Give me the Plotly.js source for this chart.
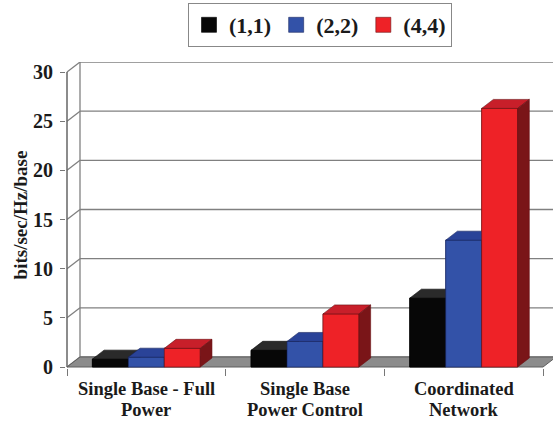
<!DOCTYPE html>
<html><head><meta charset="utf-8">
<script src="https://cdn.plot.ly/plotly-3.0.1.min.js"></script>
<style>html,body{margin:0;padding:0;background:#fff}#chart{width:553px;height:421px}</style>
</head><body><div id="chart"></div>
<script>
// ---- data ----
const categories = ['Single Base - Full<br>Power', 'Single Base<br>Power Control', 'Coordinated<br>Network'];
const seriesNames = ['(1,1)', '(2,2)', '(4,4)'];
const values11 = [0.8, 1.7, 7.0];
const values22 = [1.0, 2.6, 12.9];
const values44 = [1.9, 5.4, 26.3];
const yTicks = [0, 5, 10, 15, 20, 25, 30];
const yTickLabels = ['0', '5', '10', '15', '20', '25', '30'];
const yTitle = 'bits/sec/Hz/base';

// ---- geometry / style ----
const W = 553, H = 421, M = {l: 66, r: 0, t: 62, b: 53};
const XR = [-0.5063, 2.5630], YR = [-0.1017, 31.02];
const pw = W - M.l - M.r, ph = H - M.t - M.b;
const pxX = pw / (XR[1] - XR[0]), pxY = ph / (YR[1] - YR[0]);
const WALL_DX = 13, WALL_DY = 10, BAR_DX = 11.7, BAR_DY = 9;
const wdx = WALL_DX / pxX, wdy = WALL_DY / pxY, bdx = BAR_DX / pxX, bdy = BAR_DY / pxY;
const bargap = 0.32, bw = (1 - bargap) / 3;
const FONT = '"Liberation Serif", serif';
const styles = [
  {front: '#070707', top: '#2a2a2a', side: '#151515', edge: '#000000'},
  {front: '#3352a8', top: '#2a4398', side: '#1d2d6e', edge: '#1a2760'},
  {front: '#ee2227', top: '#c81f2a', side: '#7a1518', edge: '#6a1014'}
];
const series = [values11, values22, values44];
const catX = categories.map((c, i) => i);
const xMin = -0.5, xMax = categories.length - 0.5;

const traces = [];
series.forEach((vals, s) => {
  traces.push({type: 'bar', x: catX, y: vals, name: seriesNames[s], showlegend: false,
    marker: {color: styles[s].front, line: {color: styles[s].edge, width: 0.6}}, hoverinfo: 'y+name'});
});
function poly(xs, ys) { return {x: xs.concat([null]), y: ys.concat([null])}; }
series.forEach((vals, s) => {
  const f = {x: [], y: []}, t = {x: [], y: []}, sd = {x: [], y: []};
  vals.forEach((v, j) => {
    const xl = catX[j] - 1.5 * bw + s * bw, xr = xl + bw;
    let p = poly([xl, xr, xr, xl, xl], [0, 0, v, v, 0]); f.x.push(...p.x); f.y.push(...p.y);
    p = poly([xl, xr, xr + bdx, xl + bdx, xl], [v, v, v + bdy, v + bdy, v]); t.x.push(...p.x); t.y.push(...p.y);
    p = poly([xr, xr + bdx, xr + bdx, xr, xr], [0, bdy, v + bdy, v, 0]); sd.x.push(...p.x); sd.y.push(...p.y);
  });
  [[f, 'front'], [t, 'top'], [sd, 'side']].forEach(([d, k]) => {
    traces.push({type: 'scatter', mode: 'lines', x: d.x, y: d.y, fill: 'toself', fillcolor: styles[s][k],
      line: {color: styles[s].edge, width: 0.6}, hoverinfo: 'skip', showlegend: false});
  });
});
series.forEach((vals, s) => {
  traces.push({type: 'scatter', mode: 'markers', x: [null], y: [null], name: seriesNames[s],
    marker: {symbol: 'square', size: 15, color: styles[s].front, line: {color: styles[s].edge, width: 0.6}}, hoverinfo: 'skip'});
});
traces.push({type: 'scatter', x: [null], y: [null], xaxis: 'x2', showlegend: false, hoverinfo: 'skip'});

const shapes = [];
const gridC = '#808080';
yTicks.forEach(g => {
  shapes.push({type: 'line', layer: 'below', xref: 'x', yref: 'y', x0: xMin + wdx, x1: xMax + wdx, y0: g + wdy, y1: g + wdy, line: {color: gridC, width: 1.3}});
  shapes.push({type: 'line', layer: 'below', xref: 'x', yref: 'y', x0: xMin, x1: xMin + wdx, y0: g, y1: g + wdy, line: {color: gridC, width: 1.3}});
});
const yTop = yTicks[yTicks.length - 1];
shapes.push({type: 'line', layer: 'below', xref: 'x', yref: 'y', x0: xMin + wdx, x1: xMin + wdx, y0: wdy, y1: yTop + wdy, line: {color: gridC, width: 1.3}});
shapes.push({type: 'line', layer: 'below', xref: 'x', yref: 'y', x0: xMin, x1: xMin, y0: 0, y1: yTop, line: {color: '#666666', width: 1.5}});
shapes.push({type: 'path', layer: 'below', xref: 'x', yref: 'y',
  path: `M${xMin},0 L${xMax},0 L${xMax + wdx},${wdy} L${xMin + wdx},${wdy} Z`,
  fillcolor: '#8c8c8c', line: {color: '#5e5e5e', width: 1}});

// category labels, one annotation per line (bottom edge of each line box, px)
const annotations = [];
const lineBottomPx = [400, 421];
categories.forEach((c, j) => {
  c.split('<br>').forEach((line, k) => {
    annotations.push({xref: 'x', yref: 'paper', x: catX[j], y: (H - M.b - lineBottomPx[k]) / ph, yanchor: 'bottom', xanchor: 'center',
      text: line, showarrow: false, borderpad: 0, font: {family: FONT, size: 18.5, weight: 'bold', color: '#1a1a1a'}});
  });
});

const layout = {
  width: W, height: H, margin: M, paper_bgcolor: '#fff', plot_bgcolor: '#fff',
  barmode: 'group', bargap: bargap, bargroupgap: 0,
  font: {family: FONT, color: '#1a1a1a'},
  xaxis: {range: XR, tickvals: catX, showticklabels: false, ticks: '', showgrid: false, zeroline: false, showline: false, fixedrange: true},
  xaxis2: {overlaying: 'x', anchor: 'y', side: 'bottom', range: XR, tickvals: [-0.5, 0.5, 1.5, 2.5], ticks: 'outside', ticklen: 7,
    tickcolor: '#777', tickwidth: 1.2, showticklabels: false, showgrid: false, zeroline: false, showline: false},
  yaxis: {range: YR, tickvals: yTicks, ticktext: yTickLabels, ticks: 'outside', ticklen: 5, tickcolor: '#777', tickwidth: 1.2,
    showgrid: false, zeroline: false, showline: false, ticklabelstandoff: 3,
    tickfont: {family: FONT, size: 20, weight: 'bold', color: '#1a1a1a'},
    title: {text: yTitle, standoff: 0, font: {family: FONT, size: 19, weight: 'bold', color: '#1a1a1a'}}},
  showlegend: true,
  legend: {orientation: 'h', x: (320 - M.l) / pw, xanchor: 'center', y: 1 + (M.t - 3) / ph, yanchor: 'top',
    bordercolor: '#888', borderwidth: 1, bgcolor: '#fff', font: {family: FONT, size: 22, weight: 'bold', color: '#1a1a1a'}},
  annotations: annotations,
  shapes: shapes
};
Plotly.newPlot('chart', traces, layout, {displayModeBar: false});
</script></body></html>
